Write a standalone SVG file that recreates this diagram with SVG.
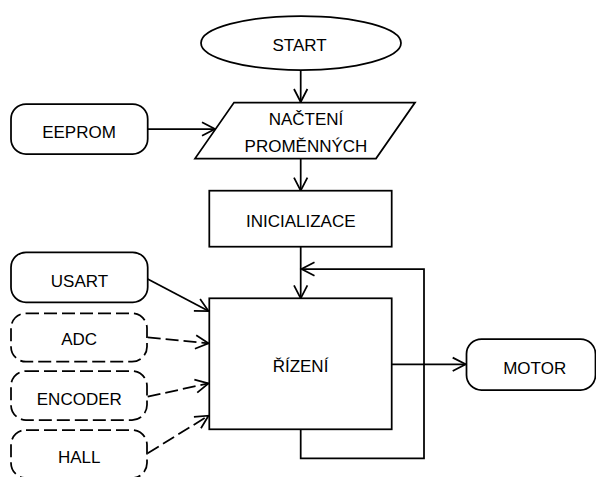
<svg xmlns="http://www.w3.org/2000/svg" width="596" height="477" viewBox="0 0 596 477">
<defs>
<marker id="arr" markerUnits="userSpaceOnUse" markerWidth="20" markerHeight="20" viewBox="-15 -10 20 20" refX="0" refY="0" orient="auto">
<path d="M-13,-6.7 L0,0 L-13,6.7" fill="none" stroke="#000" stroke-width="1.75"/>
</marker>
</defs>
<style>
.s{fill:#fff;stroke:#000;stroke-width:1.75}
.d{fill:#fff;stroke:#000;stroke-width:1.75;stroke-dasharray:13 5}
.c{fill:none;stroke:#000;stroke-width:1.75}
.cd{fill:none;stroke:#000;stroke-width:1.75;stroke-dasharray:13 5}
text{font-family:"Liberation Sans",Arial,sans-serif;font-size:17px;fill:#000;text-anchor:middle}
</style>
<rect width="596" height="477" fill="#fff"/>
<g id="connectors">
<line class="c" x1="300.7" y1="70" x2="300.7" y2="102" marker-end="url(#arr)"/>
<line class="c" x1="147.7" y1="129" x2="215" y2="129" marker-end="url(#arr)"/>
<line class="c" x1="300.7" y1="158.5" x2="300.7" y2="190.7" marker-end="url(#arr)"/>
<line class="c" x1="300.7" y1="246.7" x2="300.7" y2="298.3" marker-end="url(#arr)"/>
<polyline class="c" points="300.7,429.3 300.7,458.3 424,458.3 424,269 301.5,269" marker-end="url(#arr)"/>
<line class="c" x1="391.7" y1="364.3" x2="465.7" y2="364.3" marker-end="url(#arr)"/>
<line class="c" x1="147.7" y1="279" x2="208.5" y2="311" marker-end="url(#arr)"/>
<line class="cd" x1="147.7" y1="337.3" x2="208.5" y2="343.3" marker-end="url(#arr)"/>
<line class="cd" x1="147.7" y1="396.7" x2="208.5" y2="383.3" marker-end="url(#arr)"/>
<line class="cd" x1="147.7" y1="453.3" x2="208.5" y2="415.7" marker-end="url(#arr)"/>
</g>
<g id="start">
<ellipse class="s" cx="301" cy="43" rx="100" ry="27"/>
<text x="299.5" y="50.7">START</text>
</g>
<g id="nacteni">
<polygon class="s" points="234,102.5 415,102.5 376,158.5 195,158.5"/>
<text x="306" y="125">NAČTENÍ</text>
<text x="306" y="151.7">PROMĚNNÝCH</text>
</g>
<g id="eeprom">
<rect class="s" x="11" y="104" width="136.7" height="50" rx="15"/>
<text x="79" y="138.3">EEPROM</text>
</g>
<g id="inicializace">
<rect class="s" x="209.3" y="190.7" width="182.4" height="56"/>
<text x="300.8" y="226.7">INICIALIZACE</text>
</g>
<g id="rizeni">
<rect class="s" x="209.3" y="298.3" width="182.4" height="131"/>
<text x="300.5" y="371.7">ŘÍZENÍ</text>
</g>
<g id="motor">
<rect class="s" x="466.5" y="339" width="129" height="51" rx="15"/>
<text x="534.7" y="374.3">MOTOR</text>
</g>
<g id="usart">
<rect class="s" x="11" y="252.3" width="136.7" height="50" rx="15"/>
<text x="79.5" y="286.7">USART</text>
</g>
<g id="adc">
<rect class="d" x="11" y="313.3" width="136" height="48.4" rx="15"/>
<text x="79.2" y="345">ADC</text>
</g>
<g id="encoder">
<rect class="d" x="11" y="371" width="136" height="49" rx="15"/>
<text x="79.3" y="405">ENCODER</text>
</g>
<g id="hall">
<rect class="d" x="11" y="430" width="136" height="48" rx="15"/>
<text x="79.2" y="463.3">HALL</text>
</g>
</svg>
